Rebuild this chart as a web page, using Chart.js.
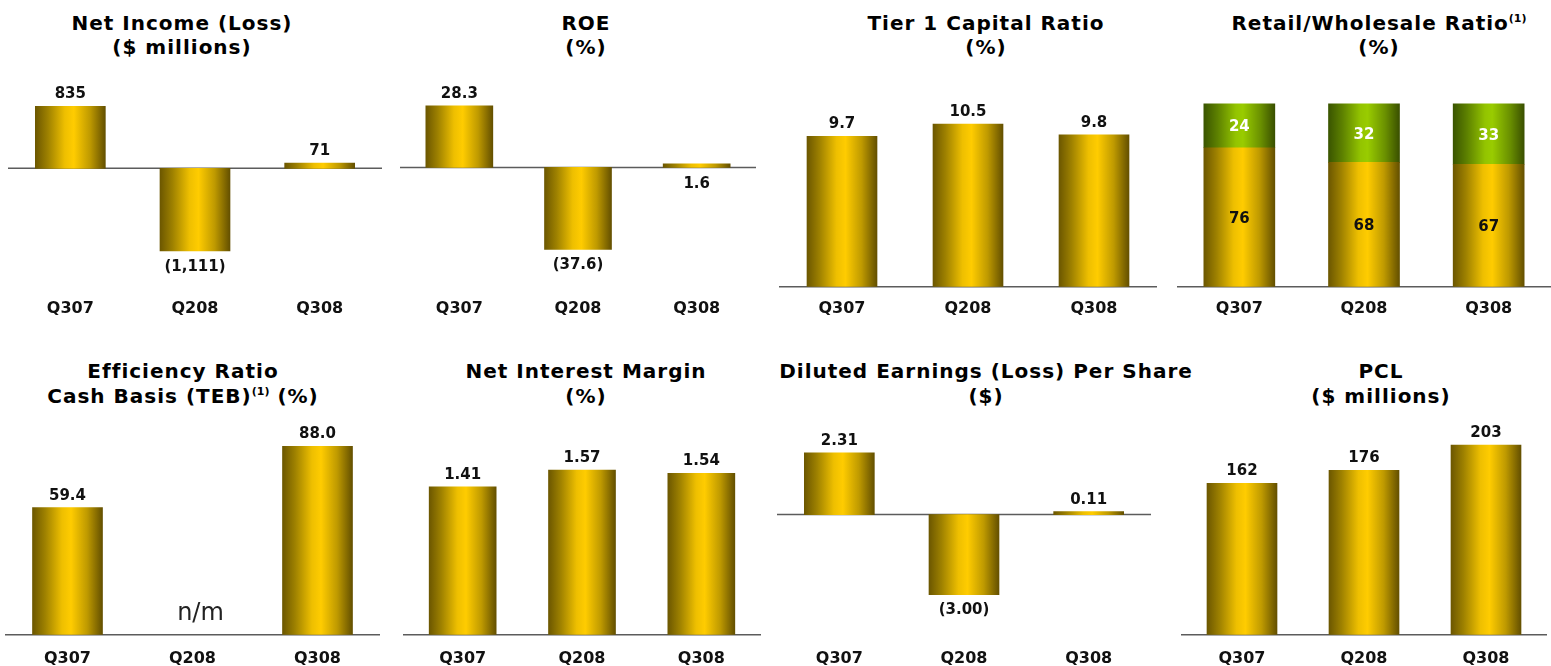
<!DOCTYPE html>
<html>
<head>
<meta charset="utf-8">
<script src="https://cdn.jsdelivr.net/npm/chart.js@4.4.0/dist/chart.umd.min.js"></script>
<style>
  body { margin: 0; background: #fff; width: 1551px; height: 666px; overflow: hidden; position: relative; font-family: "DejaVu Sans", Verdana, sans-serif; }
  canvas { position: absolute; }
  .ttl { position: absolute; width: 420px; text-align: center; font-weight: bold; font-size: 20px; line-height: 24px; letter-spacing: 1px; color: #000; white-space: nowrap; }
  .ttl.low { line-height: 25px; }
  .ttl sup { font-size: 11px; vertical-align: 8px; line-height: 0; letter-spacing: 0; }
</style>
</head>
<body>
<div class="ttl" style="left:-28px;top:11px">Net Income (Loss)<br>($ millions)</div>
<div class="ttl" style="left:376px;top:11px">ROE<br>(%)</div>
<div class="ttl" style="left:776px;top:11px">Tier 1 Capital Ratio<br>(%)</div>
<div class="ttl" style="left:1169px;top:11px">Retail/Wholesale Ratio<sup>(1)</sup><br>(%)</div>
<div class="ttl low" style="left:-27px;top:359px">Efficiency Ratio<br>Cash Basis (TEB)<sup>(1)</sup> (%)</div>
<div class="ttl low" style="left:376px;top:359px">Net Interest Margin<br>(%)</div>
<div class="ttl low" style="left:776px;top:359px">Diluted Earnings (Loss) Per Share<br>($)</div>
<div class="ttl low" style="left:1171px;top:359px">PCL<br>($ millions)</div>

<canvas id="c1" width="374" height="268" style="left:8px;top:62px"></canvas>
<canvas id="c2" width="356" height="268" style="left:400px;top:62px"></canvas>
<canvas id="c3" width="378" height="268" style="left:779px;top:62px"></canvas>
<canvas id="c4" width="374" height="268" style="left:1177px;top:62px"></canvas>
<canvas id="c5" width="375" height="267" style="left:5px;top:415px"></canvas>
<canvas id="c6" width="358" height="267" style="left:403px;top:415px"></canvas>
<canvas id="c7" width="374" height="267" style="left:777px;top:415px"></canvas>
<canvas id="c8" width="366" height="267" style="left:1181px;top:415px"></canvas>

<script>
const quarters = ['Q307', 'Q208', 'Q308'];
const netIncome = [835, -1111, 71];
const roe = [28.3, -37.6, 1.6];
const tier1 = [9.7, 10.5, 9.8];
const retailShare = [76, 68, 67];
const wholesaleShare = [24, 32, 33];
const efficiency = [59.4, null, 88.0];
const nim = [1.41, 1.57, 1.54];
const eps = [2.31, -3.00, 0.11];
const pcl = [162, 176, 203];

const FONT = '"DejaVu Sans", Verdana, sans-serif';
const GOLD = [[0, '#6c5700'], [0.18, '#9e8100'], [0.42, '#eebf00'], [0.55, '#ffcc00'], [0.78, '#bf9a00'], [1, '#645000']];
const GREEN = [[0, '#3a5500'], [0.2, '#5e8200'], [0.45, '#93c400'], [0.55, '#99cc00'], [0.8, '#6a9000'], [1, '#3a5000']];

function barFill(stops, thick) {
  return (c) => {
    const xs = c.chart.scales.x;
    if (c.type !== 'data' || !xs) return stops[3][1];
    const cx = xs.getPixelForValue(c.dataIndex);
    if (!isFinite(cx)) return stops[3][1];
    const g = c.chart.ctx.createLinearGradient(cx - thick / 2, 0, cx + thick / 2, 0);
    stops.forEach(s => g.addColorStop(s[0], s[1]));
    return g;
  };
}

function fmt(v, dec) {
  const s = Math.abs(v).toLocaleString('en-US', { minimumFractionDigits: dec, maximumFractionDigits: dec });
  return v < 0 ? '(' + s + ')' : s;
}

// zero / base line across the plot
const zeroLine = {
  id: 'zeroLine',
  beforeDatasetsDraw(chart) {
    const { ctx, chartArea } = chart;
    const y = chart.scales.y.getPixelForValue(0);
    ctx.save();
    ctx.strokeStyle = '#5c5c5c';
    ctx.lineWidth = 1.5;
    ctx.beginPath();
    ctx.moveTo(chartArea.left, y);
    ctx.lineTo(chartArea.right, y);
    ctx.stroke();
    ctx.restore();
  }
};

const valueLabels = {
  id: 'valueLabels',
  afterDatasetsDraw(chart, args, opts) {
    const { ctx } = chart;
    const y0 = chart.scales.y.getPixelForValue(0);
    const under = opts.under || [];
    ctx.save();
    ctx.textAlign = 'center';
    ctx.textBaseline = 'alphabetic';
    chart.data.datasets.forEach((ds, di) => {
      const meta = chart.getDatasetMeta(di);
      meta.data.forEach((bar, i) => {
        const v = ds.data[i];
        if (v == null) {
          if (opts.missing) {
            ctx.font = '24px ' + FONT;
            ctx.fillStyle = '#222';
            ctx.fillText(opts.missing, bar.x + 8, y0 - 15);
          }
          return;
        }
        const txt = fmt(v, opts.decimals);
        ctx.font = 'bold 15px ' + FONT;
        ctx.fillStyle = ds.labelColor || '#111';
        if (opts.inside) {
          ctx.fillText(txt, bar.x, (bar.y + bar.base) / 2 + 5.5);
        } else if (under.includes(i)) {
          ctx.fillText(txt, bar.x, y0 + 21);
        } else if (v >= 0) {
          ctx.fillText(txt, bar.x, bar.y - 8);
        } else {
          ctx.fillText(txt, bar.x, bar.y + 19.5);
        }
      });
    });
    ctx.restore();
  }
};

function makeChart(id, datasets, cfg) {
  const stacked = !!cfg.stacked;
  return new Chart(document.getElementById(id), {
    type: 'bar',
    data: { labels: quarters, datasets: datasets },
    options: {
      responsive: false,
      animation: false,
      events: [],
      layout: { padding: 0 },
      plugins: {
        legend: { display: false },
        tooltip: { enabled: false },
        valueLabels: { decimals: cfg.decimals, inside: stacked, under: cfg.under, missing: cfg.missing }
      },
      scales: {
        x: {
          stacked: stacked,
          grid: { display: false, drawTicks: false },
          border: { display: false },
          ticks: { color: '#111', padding: cfg.pad, font: { family: FONT, size: 16, weight: 'bold', lineHeight: 1.2 } }
        },
        y: { display: false, stacked: stacked, min: cfg.min, max: cfg.max }
      }
    },
    plugins: [zeroLine, valueLabels]
  });
}

function goldSet(data, thick) {
  return { data: data, barThickness: thick, backgroundColor: barFill(GOLD, thick), borderWidth: 0 };
}

makeChart('c1', [goldSet(netIncome, 70)], { decimals: 0, min: -1592, max: 1430, pad: 12 });
makeChart('c2', [goldSet(roe, 67)], { decimals: 1, min: -54.8, max: 48.4, pad: 12, under: [2] });
makeChart('c3', [goldSet(tier1, 70)], { decimals: 1, min: 0, max: 14.5, pad: 12 });
makeChart('c4', [
  Object.assign(goldSet(retailShare, 71), { labelColor: '#111' }),
  { data: wholesaleShare, barThickness: 71, backgroundColor: barFill(GREEN, 71), borderWidth: 0, labelColor: '#ffffff' }
], { decimals: 0, min: 0, max: 122.9, pad: 12, stacked: true });
makeChart('c5', [goldSet(efficiency, 70)], { decimals: 1, min: 0, max: 102.6, pad: 14, missing: 'n/m' });
makeChart('c6', [goldSet(nim, 67)], { decimals: 2, min: 0, max: 2.096, pad: 14 });
makeChart('c7', [goldSet(eps, 70)], { decimals: 2, min: -4.50, max: 3.73, pad: 14 });
makeChart('c8', [goldSet(pcl, 70)], { decimals: 0, min: 0, max: 235.1, pad: 14 });
</script>
</body>
</html>
